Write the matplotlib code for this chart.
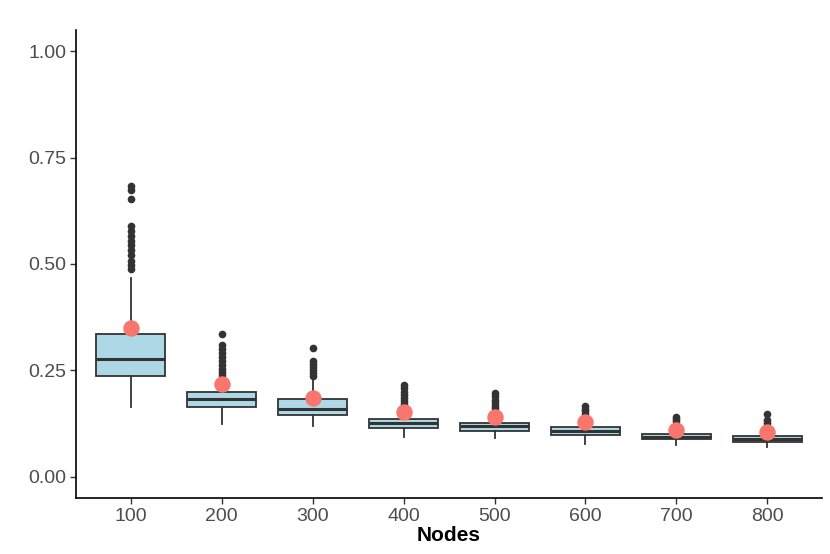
import matplotlib
matplotlib.use("Agg")
import matplotlib.pyplot as plt

plt.rcParams["font.family"] = ["Liberation Sans", "DejaVu Sans"]

nodes = ["100", "200", "300", "400", "500", "600", "700", "800"]

q1 = [0.237, 0.164, 0.145, 0.115, 0.108, 0.098, 0.088, 0.081]
median = [0.276, 0.183, 0.159, 0.126, 0.120, 0.108, 0.094, 0.089]
q3 = [0.335, 0.199, 0.183, 0.136, 0.127, 0.117, 0.101, 0.096]
whisker_low = [0.164, 0.124, 0.120, 0.094, 0.091, 0.077, 0.075, 0.070]
whisker_high = [0.468, 0.235, 0.230, 0.167, 0.155, 0.142, 0.125, 0.120]
means = [0.349, 0.218, 0.185, 0.152, 0.140, 0.129, 0.110, 0.105]

outliers = [
    [0.684, 0.675, 0.653, 0.590, 0.578, 0.566, 0.555, 0.544, 0.532, 0.521,
     0.508, 0.497, 0.488],
    [0.335, 0.309, 0.300, 0.290, 0.281, 0.272, 0.263, 0.254, 0.246, 0.240],
    [0.302, 0.272, 0.265, 0.257, 0.250, 0.243, 0.236],
    [0.215, 0.208, 0.200, 0.192, 0.185, 0.178, 0.171],
    [0.197, 0.189, 0.181, 0.174, 0.166, 0.161],
    [0.166, 0.160, 0.154, 0.148],
    [0.141, 0.136, 0.131],
    [0.147, 0.134, 0.127],
]

stats = []
for i in range(len(nodes)):
    stats.append({
        "med": median[i], "q1": q1[i], "q3": q3[i],
        "whislo": whisker_low[i], "whishi": whisker_high[i],
        "fliers": outliers[i],
    })

fig = plt.figure(figsize=(8.3, 5.54), dpi=100)
ax = fig.add_axes([0.0916, 0.101, 0.8988, 0.845])

pos = list(range(1, len(nodes) + 1))
ax.bxp(stats, positions=pos, widths=0.75, patch_artist=True, showcaps=False,
       boxprops=dict(facecolor="#ADD8E6", edgecolor="#333333", linewidth=1.3),
       medianprops=dict(color="#333333", linewidth=2.2),
       whiskerprops=dict(color="#333333", linewidth=1.3),
       flierprops=dict(marker="o", markersize=4.5, markerfacecolor="#333333",
                       markeredgecolor="#333333"))

ax.scatter(pos, means, s=140, color="#F8766D", zorder=5, linewidths=0)

ax.set_xlim(0.4, 8.6)
ax.set_ylim(-0.05, 1.05)
ax.set_xticks(pos)
ax.set_xticklabels(nodes)
ax.set_yticks([0, 0.25, 0.5, 0.75, 1.0])
ax.set_yticklabels(["0.00", "0.25", "0.50", "0.75", "1.00"])
ax.tick_params(labelsize=14, colors="#4D4D4D", length=4, width=1, pad=3)
ax.tick_params(axis="both", color="#333333")
ax.set_xlabel("Nodes", fontsize=15, fontweight="bold", color="black", labelpad=1)

for side in ["top", "right"]:
    ax.spines[side].set_visible(False)
for side in ["left", "bottom"]:
    ax.spines[side].set_linewidth(1.2)
    ax.spines[side].set_color("black")

fig.savefig("out.png", dpi=100)
